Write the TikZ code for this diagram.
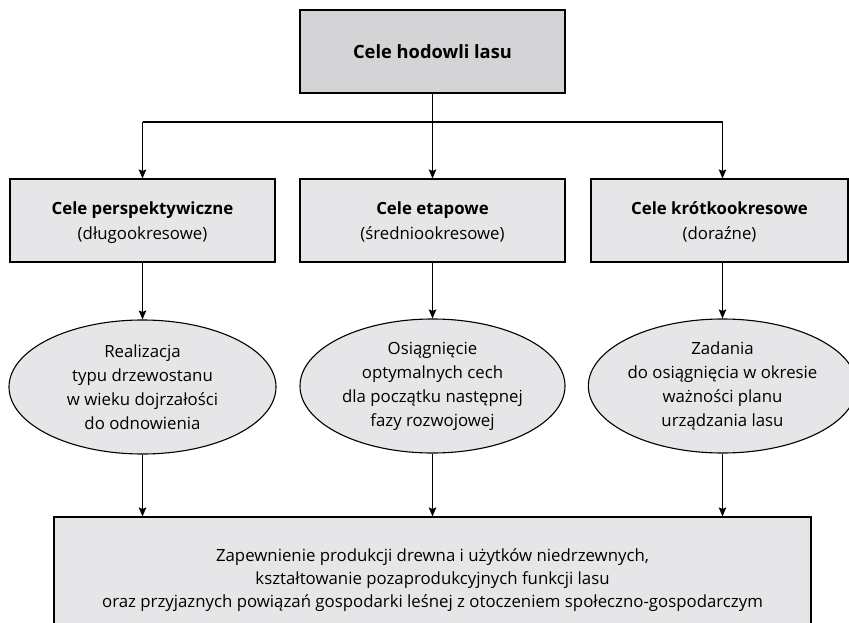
\documentclass[tikz,border=0pt]{standalone}
\usepackage{fontspec}
\setmainfont{Open Sans}
\usetikzlibrary{shapes.geometric,arrows.meta}
\definecolor{headfill}{RGB}{212,212,215}
\definecolor{boxfill}{RGB}{230,230,232}
\tikzset{
  link/.style={line width=1.1pt, draw=black},
  arr/.style={link, -{Stealth[length=9pt,width=7.5pt,inset=1.5pt]}},
  headbox/.style={draw=black, line width=1.1pt, fill=headfill, rectangle,
    minimum width=265pt, minimum height=83pt, inner sep=0pt,
    font=\fontsize{18.3}{23.5}\selectfont\bfseries},
  goalbox/.style={draw=black, line width=1.1pt, fill=boxfill, rectangle,
    minimum height=83pt, inner sep=0pt, align=center, text depth=0pt,
    font=\fontsize{16.8}{25}\selectfont},
  aimoval/.style={draw=black, line width=1.1pt, fill=boxfill, ellipse,
    minimum height=134pt, inner sep=0pt, align=center,
    font=\fontsize{16.8}{24}\selectfont},
  basebox/.style={draw=black, line width=1.1pt, fill=boxfill, rectangle,
    minimum width=757pt, minimum height=126pt, inner sep=0pt, align=center,
    font=\fontsize{16.8}{23}\selectfont}
}
\begin{document}
\begin{tikzpicture}[x=1pt,y=-1pt]
  \clip (0,0) rectangle (849,623);
  \fill[white] (0,0) rectangle (849,623);

  % main goal
  \node[headbox] (top) at (432.5,51.5) {Cele hodowli lasu};

  % three horizons of goals
  \node[goalbox, minimum width=265pt] (b1) at (142.5,220.5)
    {\textbf{Cele perspektywiczne}\\(długookresowe)};
  \node[goalbox, minimum width=265pt] (b2) at (432.5,220.5)
    {\textbf{Cele etapowe}\\(średniookresowe)};
  \node[goalbox, minimum width=257pt] (b3) at (719.5,220.5)
    {\textbf{Cele krótkookresowe}\\(doraźne)};

  % what each horizon aims at
  \node[aimoval, minimum width=267pt] (e1) at (142.5,387)
    {Realizacja\\typu drzewostanu\\w wieku dojrzałości\\do odnowienia};
  \node[aimoval, minimum width=265pt] (e2) at (432.5,386)
    {Osiągnięcie\\optymalnych cech\\dla początku następnej\\fazy rozwojowej};
  \node[aimoval, minimum width=263pt] (e3) at (722.5,386)
    {Zadania\\do osiągnięcia w okresie\\ważności planu\\urządzania lasu};

  % common outcome
  \node[basebox] (bot) at (432.5,580)
    {Zapewnienie produkcji drewna i użytków niedrzewnych,\\
     kształtowanie pozaprodukcyjnych funkcji lasu\\
     oraz przyjaznych powiązań gospodarki leśnej z otoczeniem społeczno-gospodarczym};

  % distribution line below the main goal
  \coordinate (hub) at (432.5,122);
  \coordinate (j1) at (142.5,122);
  \coordinate (j3) at (722.5,122);
  \draw[link] (top.south) -- (hub);
  \draw[link] (j1) -- (j3);
  \draw[arr] (j1) -- (j1 |- b1.north);
  \draw[arr] (hub) -- (b2.north);
  \draw[arr] (j3) -- (j3 |- b3.north);

  % goal boxes to ovals
  \draw[arr] (b1.south) -- (e1.north);
  \draw[arr] (b2.south) -- (e2.north);
  \draw[arr] (e3.north |- b3.south) -- (e3.north);

  % ovals to the common outcome
  \draw[arr] (e1.south) -- (e1.south |- bot.north);
  \draw[arr] (e2.south) -- (e2.south |- bot.north);
  \draw[arr] (e3.south) -- (e3.south |- bot.north);
\end{tikzpicture}
\end{document}
